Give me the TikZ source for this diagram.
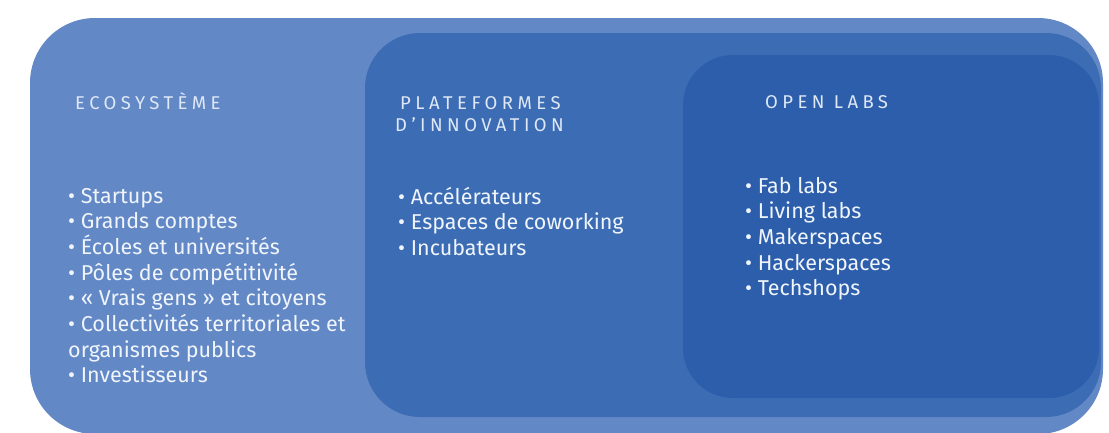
\documentclass[tikz,border=0pt]{standalone}
\usepackage{fontspec}
\setmainfont{Fira Sans}
\newfontfamily\headfont[LetterSpace=24]{Fira Sans}
\usepackage{xcolor}
\usetikzlibrary{positioning}

\definecolor{ecoblue}{RGB}{99,136,198}
\definecolor{platblue}{RGB}{60,108,180}
\definecolor{labblue}{RGB}{44,94,171}
\definecolor{headtext}{RGB}{222,232,246}
\definecolor{itemtext}{RGB}{240,245,252}

\begin{document}
\begin{tikzpicture}[x=1pt, y=-1pt,
        head/.style={anchor=base west, inner sep=0pt, text=headtext,
            font=\headfont\fontsize{18.5}{22}\selectfont},
        item/.style={anchor=base west, inner sep=0pt, text=itemtext,
            font=\fontsize{21.5}{25}\selectfont}]
    \useasboundingbox (0,0) rectangle (1109,432);

    % nested boxes
    \fill[ecoblue, rounded corners=65pt] (30,18) rectangle (1103,434);
    \fill[platblue, rounded corners=55pt] (365,33) rectangle (1101,417);
    \fill[labblue, rounded corners=50pt] (683,55) rectangle (1099,398);

    % headings
    \node[head] (eco) at (75,109) {ECOSYSTÈME};
    \node[head] (plat) at (400,109) {PLATEFORMES};
    \node[head] (platb) at (395,131) {D’INNOVATION};
    \node[head] (labs) at (765,108) {OPEN LABS};

    % Ecosysteme items
    \foreach \i/\t in {0/• Startups, 1/• Grands comptes, 2/• Écoles et universités,
            3/• Pôles de compétitivité, 4/• « Vrais gens » et citoyens,
            5/• Collectivités territoriales et, 6/organismes publics,
            7/• Investisseurs} {
        \node[item] (eco\i) at (68,203+25.7*\i) {\t};
    }

    % Plateformes items
    \foreach \i/\t in {0/• Accélérateurs, 1/• Espaces de coworking, 2/• Incubateurs} {
        \node[item] (plat\i) at (398,204+25.7*\i) {\t};
    }

    % Open labs items
    \foreach \i/\t in {0/• Fab labs, 1/• Living labs, 2/• Makerspaces,
            3/• Hackerspaces, 4/• Techshops} {
        \node[item] (labs\i) at (745,193+25.7*\i) {\t};
    }
\end{tikzpicture}
\end{document}
